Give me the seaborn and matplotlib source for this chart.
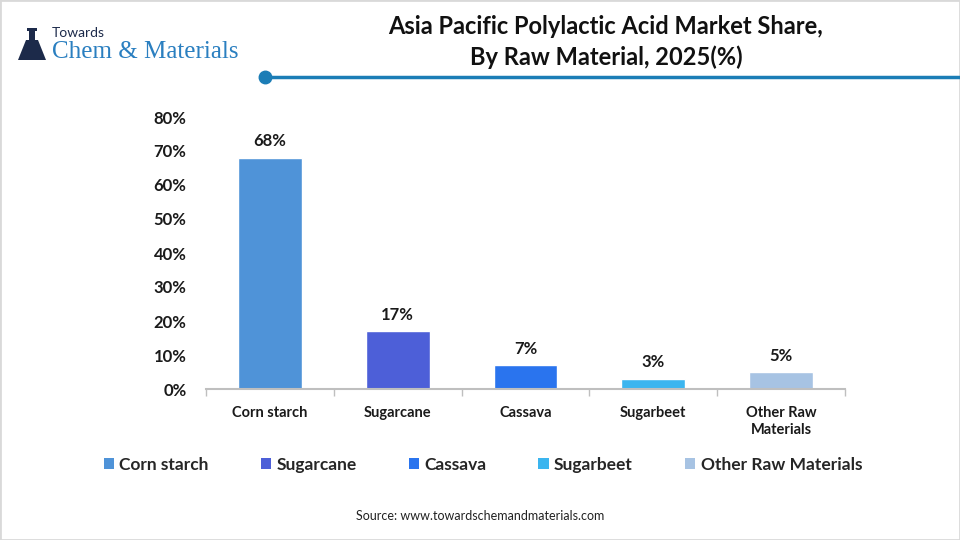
import matplotlib
matplotlib.use("Agg")
import matplotlib.pyplot as plt
import seaborn as sns
import pandas as pd
from matplotlib.patches import Patch, Rectangle, Polygon
from matplotlib.lines import Line2D
from matplotlib.ticker import FixedLocator

categories = ["Corn starch", "Sugarcane", "Cassava", "Sugarbeet", "Other Raw Materials"]
tick_labels = ["Corn starch", "Sugarcane", "Cassava", "Sugarbeet", "Other Raw\nMaterials"]
values = [68, 17, 7, 3, 5]
colors = ["#4f93d8", "#4d5fd8", "#2a74ee", "#3bb5ef", "#a7c3e3"]

sns.set_theme(style="white")
plt.rcParams["font.family"] = ["Lato", "DejaVu Sans"]

df = pd.DataFrame({"cat": categories, "val": values})

fig = plt.figure(figsize=(9.6, 5.4), dpi=100)
fig.patch.set_facecolor("white")
ax = fig.add_axes([206/960, 1-389/540, (845-206)/960, (389-117)/540])

sns.barplot(data=df, x="cat", y="val", hue="cat", palette=colors, order=categories,
            hue_order=categories, width=0.5, dodge=False, legend=False, ax=ax,
            saturation=1)

ax.set_ylim(0, 80)
ax.set_xlim(-0.5, len(categories) - 0.5)
ax.set_yticks(range(0, 81, 10))
ax.set_yticklabels([f"{v}%" for v in range(0, 81, 10)], fontsize=12, fontweight="bold", color="#1a1a1a")
ax.set_xticks(range(len(categories)))
ax.set_xticklabels(tick_labels, fontsize=10.5, fontweight="bold", color="#1a1a1a", linespacing=1.3)
ax.xaxis.set_minor_locator(FixedLocator([i - 0.5 for i in range(len(categories) + 1)]))
ax.tick_params(axis="x", which="major", length=0, pad=12)
ax.tick_params(axis="x", which="minor", length=5, width=1, color="#bfbfbf", direction="out", bottom=True)
ax.tick_params(axis="y", length=0, pad=14)
ax.set_xlabel("")
ax.set_ylabel("")
for s in ["top", "right", "left"]:
    ax.spines[s].set_visible(False)
ax.spines["bottom"].set_color("#bfbfbf")
ax.spines["bottom"].set_linewidth(1.5)
ax.grid(False)

for cont in ax.containers:
    ax.bar_label(cont, labels=[f"{v:.0f}%" for v in cont.datavalues], padding=6,
                 fontsize=12, fontweight="bold", color="#1a1a1a")

# Legend
handles = [Patch(facecolor=c, edgecolor="none", label=l) for c, l in zip(colors, categories)]
fig.legend(handles=handles, loc="center", bbox_to_anchor=(0.503, 1-465/540), ncol=5,
           frameon=False, handlelength=0.6, handleheight=0.6,
           handletextpad=0.3, columnspacing=3.0,
           prop={"weight": "bold", "size": 12.5})

# Title
fig.text(606/960, 1-42/540, "Asia Pacific Polylactic Acid Market Share,\nBy Raw Material, 2025(%)",
         ha="center", va="center", fontsize=17, fontweight="bold", color="#111111",
         linespacing=1.35)

# Logo
fig.text(52/960, 1-33/540, "Towards", ha="left", va="center", fontsize=10, color="#1c2a4a")
fig.text(52/960, 1-52/540, "Chem & Materials", ha="left", va="center", fontsize=18,
         color="#2a7fc0", family=["Liberation Serif", "DejaVu Serif"])
fig.patches.append(Polygon([(18/960, 1-60/540), (46/960, 1-60/540), (38/960, 1-40/540),
                            (26/960, 1-40/540)], closed=True, transform=fig.transFigure,
                           facecolor="#1c2a4a", edgecolor="none"))
fig.patches.append(Rectangle((29/960, 1-42/540), 6/960, 12/540, transform=fig.transFigure,
                             facecolor="#1c2a4a", edgecolor="none"))
fig.patches.append(Rectangle((27/960, 1-31/540), 10/960, 3/540, transform=fig.transFigure,
                             facecolor="#1c2a4a", edgecolor="none"))

# Decorative line
fig.add_artist(Line2D([265/960, 1.0], [1-77/540, 1-77/540], transform=fig.transFigure,
                      color="#1b7db6", linewidth=2.5))
fig.add_artist(Line2D([265/960], [1-77/540], transform=fig.transFigure, marker="o",
                      markersize=9, color="#1b7db6", linestyle="none"))

# Source
fig.text(480/960, 1-516/540, "Source: www.towardschemandmaterials.com", ha="center", va="center",
         fontsize=9, color="#222222")

# Border
fig.patches.append(Rectangle((0, 0), 1, 1, transform=fig.transFigure, facecolor="none",
                             edgecolor="#d9d9d9", linewidth=2))

fig.savefig("out.png", dpi=100)
